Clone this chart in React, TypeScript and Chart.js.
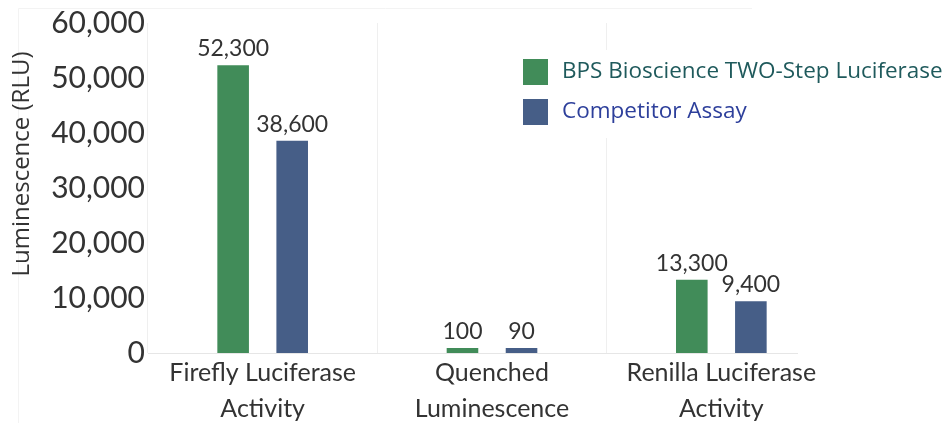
import React, { useEffect, useRef } from "react";
import { Chart, registerables } from "chart.js";

Chart.register(...registerables);

const categories: string[][] = [
  ["Firefly Luciferase", "Activity"],
  ["Quenched", "Luminescence"],
  ["Renilla Luciferase", "Activity"],
];
const seriesNames = ["BPS Bioscience TWO-Step Luciferase", "Competitor Assay"];
const bpsValues = [52300, 100, 13300];
const competitorValues = [38600, 90, 9400];
const yTicks = [0, 10000, 20000, 30000, 40000, 50000, 60000];

const GREEN = "#418c59";
const BLUE = "#465e87";
const TEXT = "#333333";

const fmt = (v: number) => v.toLocaleString("en-US");

const framePlugin = {
  id: "frame",
  beforeDraw(chart: any) {
    const ctx = chart.ctx;
    ctx.save();
    ctx.strokeStyle = "#f3f3f3";
    ctx.lineWidth = 1;
    ctx.beginPath();
    ctx.moveTo(18.5, 423);
    ctx.lineTo(18.5, 8.5);
    ctx.lineTo(752, 8.5);
    ctx.stroke();
    ctx.restore();
  },
  afterDatasetsDraw(chart: any) {
    const ctx = chart.ctx;
    const y = Math.round(chart.scales.y.getPixelForValue(0)) + 0.5;
    ctx.save();
    ctx.strokeStyle = "#e6e6e6";
    ctx.lineWidth = 1;
    ctx.beginPath();
    ctx.moveTo(chart.chartArea.left, y);
    ctx.lineTo(798, y);
    ctx.stroke();
    ctx.restore();
  },
};

const labelPlugin = {
  id: "valueLabels",
  afterDatasetsDraw(chart: any) {
    const ctx = chart.ctx;
    ctx.save();
    ctx.fillStyle = TEXT;
    ctx.font = "23px Lato";
    ctx.textAlign = "center";
    ctx.textBaseline = "bottom";
    chart.data.datasets.forEach((ds: any, di: number) => {
      const meta = chart.getDatasetMeta(di);
      meta.data.forEach((bar: any, i: number) => {
        ctx.fillText(fmt(ds.data[i]), bar.x, bar.y - 5);
      });
    });
    ctx.restore();
  },
};

const titlePlugin = {
  id: "yTitle",
  afterDraw(chart: any) {
    const ctx = chart.ctx;
    ctx.save();
    ctx.translate(22, 164);
    ctx.rotate(-Math.PI / 2);
    ctx.fillStyle = TEXT;
    ctx.font = "24px 'Open Sans'";
    ctx.textAlign = "center";
    ctx.textBaseline = "middle";
    ctx.fillText("Luminescence (RLU)", 0, 0);
    ctx.restore();
  },
};

const legendPlugin = {
  id: "customLegend",
  afterDraw(chart: any) {
    const ctx = chart.ctx;
    const colors = [GREEN, BLUE];
    const textColors = ["#1f5a5c", "#2d3f9b"];
    ctx.save();
    ctx.fillStyle = "#ffffff";
    ctx.fillRect(510, 50, 438, 88);
    ctx.font = "22.5px 'Open Sans'";
    ctx.textAlign = "left";
    ctx.textBaseline = "middle";
    seriesNames.forEach((name, i) => {
      const cy = 72 + i * 40;
      ctx.fillStyle = colors[i];
      ctx.fillRect(523, cy - 13, 25, 26);
      ctx.fillStyle = textColors[i];
      ctx.fillText(name, 562, cy);
    });
    ctx.restore();
  },
};

export default function App() {
  const ref = useRef<HTMLCanvasElement | null>(null);
  useEffect(() => {
    document.body.style.margin = "0";
    if (!ref.current) return;
    const chart = new Chart(ref.current, {
      type: "bar",
      data: {
        labels: categories,
        datasets: [
          {
            label: seriesNames[0],
            data: bpsValues,
            backgroundColor: GREEN,
            categoryPercentage: 0.515,
            barPercentage: 0.535,
            minBarLength: 5,
          },
          {
            label: seriesNames[1],
            data: competitorValues,
            backgroundColor: BLUE,
            categoryPercentage: 0.515,
            barPercentage: 0.535,
            minBarLength: 5,
          },
        ],
      },
      options: {
        animation: false,
        responsive: true,
        maintainAspectRatio: false,
        layout: { padding: { top: 23, right: 112, left: 0, bottom: 0 } },
        plugins: {
          legend: { display: false },
          tooltip: { enabled: false },
        },
        scales: {
          x: {
            grid: {
              display: true,
              color: (c: any) =>
                c.type !== "tick" || c.index >= categories.length ? "rgba(0,0,0,0)" : "#efefef",
              drawTicks: false,
              offset: true,
            },
            border: { display: false },
            ticks: {
              color: TEXT,
              font: { family: "Lato", size: 25, lineHeight: 1.44 },
              padding: 2,
              maxRotation: 0,
            },
            afterFit: (s: any) => {
              s.height = 70;
            },
          },
          y: {
            min: 0,
            max: 60000,
            afterBuildTicks: (s: any) => {
              s.ticks = yTicks.map((v) => ({ value: v }));
            },
            grid: { display: false, drawTicks: false },
            border: { display: false },
            ticks: {
              color: TEXT,
              font: { family: "Lato", size: 30 },
              padding: 3,
              callback: (v: any) => fmt(Number(v)),
            },
            afterFit: (s: any) => {
              s.width = 148;
            },
          },
        },
      },
      plugins: [framePlugin, labelPlugin, titlePlugin, legendPlugin],
    });
    return () => chart.destroy();
  }, []);
  return (
    <div style={{ position: "relative", width: 948, height: 423, background: "#fff" }}>
      <canvas ref={ref} />
    </div>
  );
}
